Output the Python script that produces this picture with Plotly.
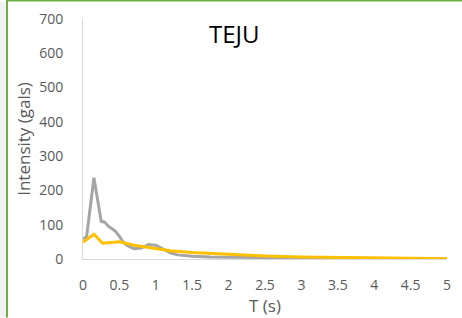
import plotly.graph_objects as go

# ---- data ----
period_gray = [0.0, 0.05, 0.15, 0.25, 0.3, 0.35, 0.4, 0.45, 0.5, 0.55, 0.6, 0.7, 0.8, 0.9, 1.0,
               1.1, 1.2, 1.3, 1.4, 1.5, 1.75, 2.0, 2.5, 3.0, 3.5, 4.0, 4.5, 5.0]
intensity_gray = [58, 66, 237, 110, 107, 95, 88, 80, 66, 50, 40, 30, 32, 42, 40,
                  28, 18, 12, 9, 8, 6, 5, 4, 3, 2, 2, 1, 1]

period_yellow = [0.0, 0.15, 0.27, 0.5, 0.7, 1.0, 1.2, 1.5, 2.0, 2.5, 3.0, 3.5, 4.0, 4.5, 5.0]
intensity_yellow = [49, 72, 46, 50, 40, 30, 24, 19, 13, 9, 6, 4, 3, 2, 1]

x_ticks = [0, 0.5, 1, 1.5, 2, 2.5, 3, 3.5, 4, 4.5, 5]
x_tick_labels = ["0", "0.5", "1", "1.5", "2", "2.5", "3", "3.5", "4", "4.5", "5"]
y_ticks = [0, 100, 200, 300, 400, 500, 600, 700]

title_text = "TEJU"
x_title = "T (s)"
y_title = "Intensity (gals)"

# ---- layout geometry (pixels) ----
W, H = 462, 318
L, R, T, B = 83, 15, 19, 58.5
pw = W - L - R
ph = H - T - B

def px(xp):
    return (xp - L) / pw

def py(yp):
    return (H - B - yp) / ph

font_family = "Open Sans"
txt_color = "#595959"

fig = go.Figure()
fig.add_trace(go.Scatter(x=period_gray, y=intensity_gray, mode="lines",
                         line=dict(color="#A5A5A5", width=3), showlegend=False))
fig.add_trace(go.Scatter(x=period_yellow, y=intensity_yellow, mode="lines",
                         line=dict(color="#FFC000", width=3), showlegend=False))

fig.update_layout(
    width=W, height=H,
    margin=dict(l=L, r=R, t=T, b=B, pad=0, autoexpand=False),
    paper_bgcolor="white", plot_bgcolor="white",
    font=dict(family=font_family, color=txt_color, size=14),
    xaxis=dict(range=[0, 5], tickvals=x_ticks, ticktext=x_tick_labels, automargin=False,
               showgrid=False, zeroline=False, showline=True, linecolor="#D9D9D9", linewidth=1,
               ticks="outside", ticklen=13, tickcolor="rgba(0,0,0,0)",
               tickfont=dict(size=14, color=txt_color),
               title=dict(text=x_title, font=dict(size=17, color=txt_color), standoff=0)),
    yaxis=dict(range=[0, 700], tickvals=y_ticks, automargin=False,
               showgrid=False, zeroline=False, showline=True, linecolor="#D9D9D9", linewidth=1,
               ticks="outside", ticklen=16, tickcolor="rgba(0,0,0,0)",
               tickfont=dict(size=14, color=txt_color),
               title=dict(text=y_title, font=dict(size=17, color=txt_color), standoff=4)),
)

fig.add_annotation(text=title_text, xref="paper", yref="paper", x=px(234.5), y=py(34),
                   xanchor="center", yanchor="middle", showarrow=False,
                   font=dict(size=24, color="#000000", family=font_family))

# frame decorations
fig.add_shape(type="rect", xref="paper", yref="paper", x0=px(0), x1=px(6), y0=py(H), y1=py(2),
              fillcolor="#F2F2F2", line=dict(width=0), layer="below")
fig.add_shape(type="line", xref="paper", yref="paper", x0=px(7), x1=px(7), y0=py(H), y1=py(0),
              line=dict(color="#70AD47", width=2))
fig.add_shape(type="line", xref="paper", yref="paper", x0=px(6), x1=px(W), y0=py(0.5), y1=py(0.5),
              line=dict(color="#70AD47", width=2))

fig.write_html("out.html", config={"displayModeBar": False},
               post_script="document.body.style.margin='0';document.body.style.overflow='hidden';")
